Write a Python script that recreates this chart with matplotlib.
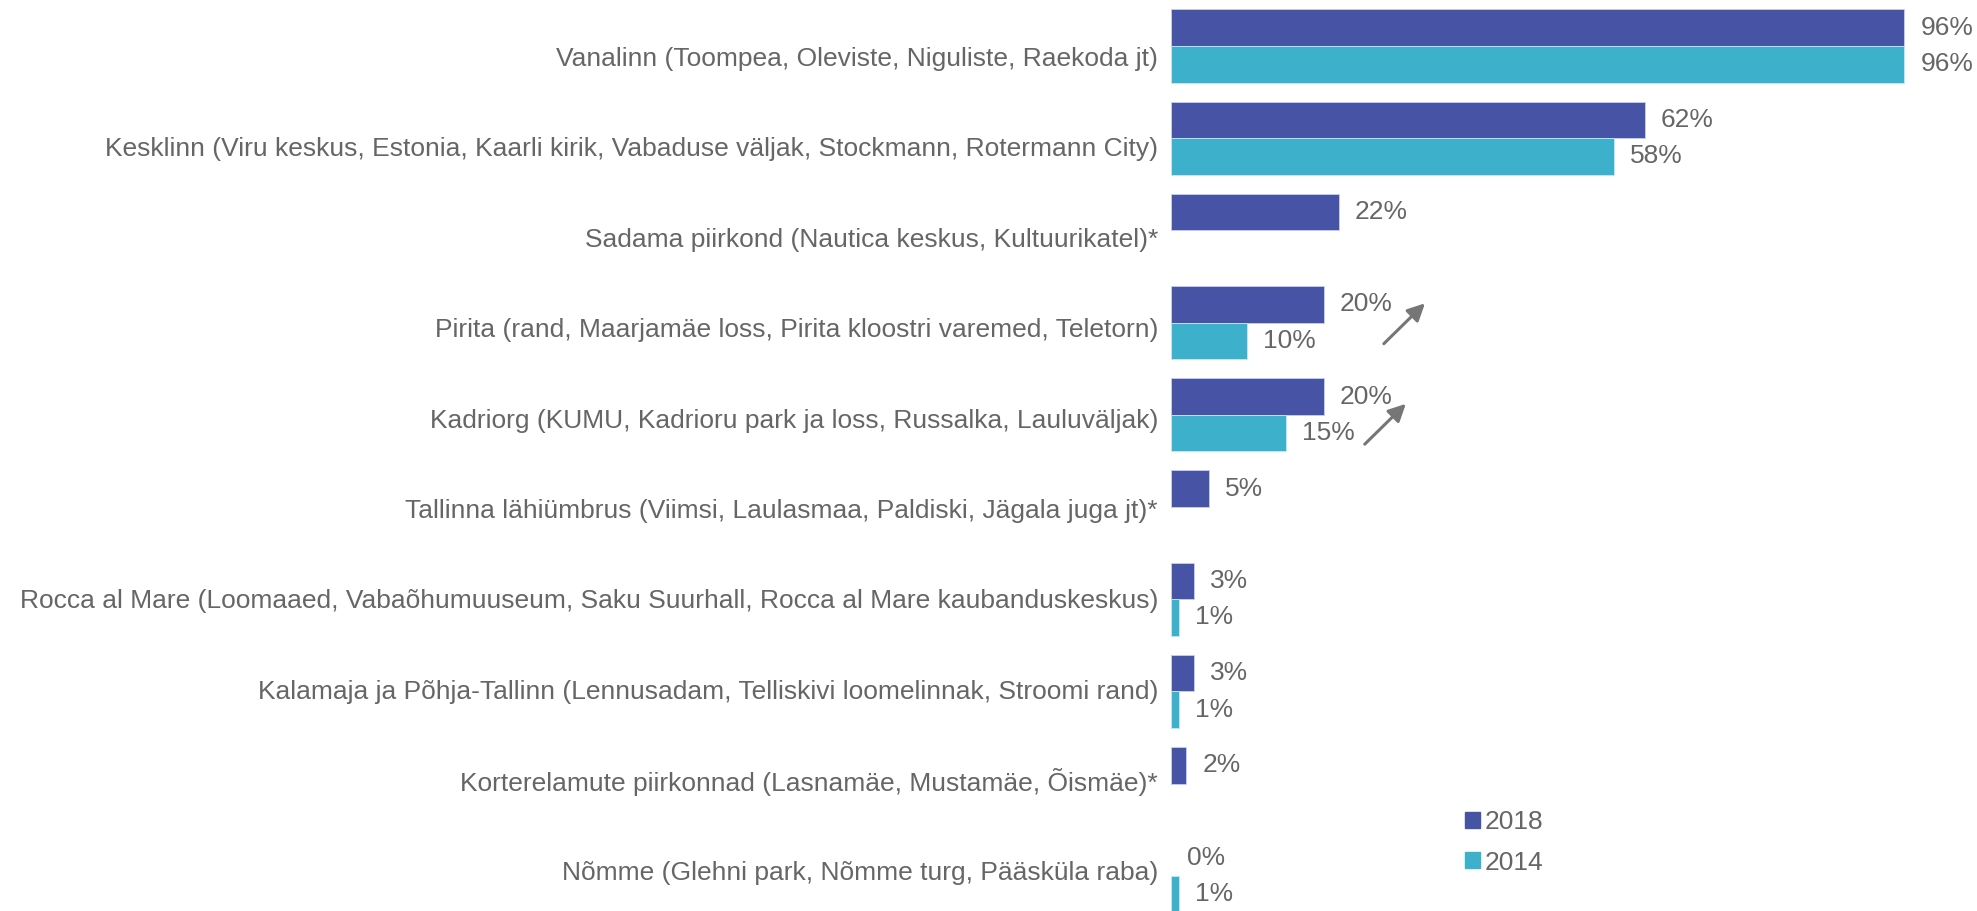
import numpy as np
import matplotlib
matplotlib.use('Agg')
import matplotlib.pyplot as plt
from matplotlib.patches import Patch

plt.rcParams['font.family'] = ['Liberation Sans', 'DejaVu Sans']

categories = [
    'Vanalinn (Toompea, Oleviste, Niguliste, Raekoda jt)',
    'Kesklinn (Viru keskus, Estonia, Kaarli kirik, Vabaduse väljak, Stockmann, Rotermann City)',
    'Sadama piirkond (Nautica keskus, Kultuurikatel)*',
    'Pirita (rand, Maarjamäe loss, Pirita kloostri varemed, Teletorn)',
    'Kadriorg (KUMU, Kadrioru park ja loss, Russalka, Lauluväljak)',
    'Tallinna lähiümbrus (Viimsi, Laulasmaa, Paldiski, Jägala juga jt)*',
    'Rocca al Mare (Loomaaed, Vabaõhumuuseum, Saku Suurhall, Rocca al Mare kaubanduskeskus)',
    'Kalamaja ja Põhja-Tallinn (Lennusadam, Telliskivi loomelinnak, Stroomi rand)',
    'Korterelamute piirkonnad (Lasnamäe, Mustamäe, Õismäe)*',
    'Nõmme (Glehni park, Nõmme turg, Pääsküla raba)',
]
y2018 = [96, 62, 22, 20, 20, 5, 3, 3, 2, 0]
y2014 = [96, 58, None, 10, 15, None, 1, 1, None, 1]

c2018 = '#4753A5'
c2014 = '#3DB0CC'
grey = '#666666'
fs = 19

fig = plt.figure(figsize=(19.77, 9.11), dpi=100)
ax = fig.add_axes([1171 / 1977, 0, 1 - 1171 / 1977, 1])

h = 0.396
pos = np.arange(len(categories))

for i, v in enumerate(y2018):
    ax.barh(pos[i] - h / 2, v, height=h, color=c2018, edgecolor='#c8d0ec',
            linewidth=0.6 if v else 0)
    ax.annotate(f'{v}%', (v, pos[i] - h / 2), xytext=(16, 0), textcoords='offset pixels',
                ha='left', va='center', fontsize=fs, color=grey)
for i, v in enumerate(y2014):
    if v is None:
        continue
    ax.barh(pos[i] + h / 2, v, height=h, color=c2014, edgecolor='#c6e8f1', linewidth=0.6)
    ax.annotate(f'{v}%', (v, pos[i] + h / 2), xytext=(16, 0), textcoords='offset pixels',
                ha='left', va='center', fontsize=fs, color=grey)

# category labels (sit a little off the bar centres in the original)
for i, name in enumerate(categories):
    ax.annotate(name, (0, 0.141 + 0.9805 * i), xycoords=('axes fraction', 'data'),
                xytext=(-13, 0), textcoords='offset pixels',
                ha='right', va='center', fontsize=fs, color=grey, annotation_clip=False)

# trend arrows
arrow = dict(arrowstyle='-|>', color='#767676', lw=2.2, mutation_scale=26)
ax.annotate('', xy=(33.5, 2.77), xytext=(27.6, 3.25), arrowprops=arrow)
ax.annotate('', xy=(31.0, 3.86), xytext=(25.1, 4.34), arrowprops=arrow)

ax.set_xlim(0, 105.5)
ax.set_ylim(9.382, -0.499)
ax.axis('off')

handles = [Patch(color=c2018, label='2018'), Patch(color=c2014, label='2014')]
fig.legend(handles=handles, loc='upper left', bbox_to_anchor=(1452 / 1977, 1 - 797 / 911),
           frameon=False, fontsize=fs, labelcolor=grey, handlelength=0.55, handleheight=0.55,
           handletextpad=0.2, labelspacing=0.62, borderpad=0)

fig.savefig('out.png', dpi=100)
